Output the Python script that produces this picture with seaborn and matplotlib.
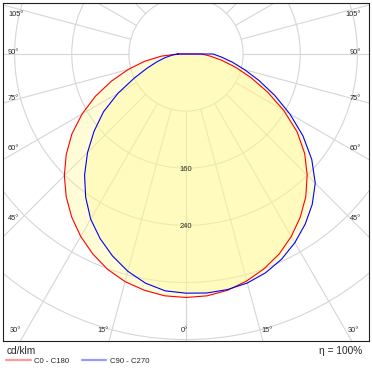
import numpy as np
import pandas as pd
import matplotlib
matplotlib.use("Agg")
import matplotlib.pyplot as plt
from matplotlib.lines import Line2D
import seaborn as sns

# luminous intensity (cd/klm), gamma 0..90 deg in 5 deg steps
gamma = [0, 5, 10, 15, 20, 25, 30, 35, 40, 45, 50, 55, 60, 65, 70, 75, 80, 85, 90]
c0 = [341, 340, 336, 329, 320, 309, 295, 279, 261, 240, 217, 190, 158, 126, 97, 72, 51, 34, 22]
c180 = [341, 340, 336, 330, 321, 309, 295, 279, 261, 241, 219, 195, 168, 140, 111, 84, 59, 35, 12]
c90 = [335, 336, 335, 332, 326, 317, 305, 291, 275, 256, 230, 200, 168, 137, 109, 85, 66, 50, 38]
c270 = [335, 333, 326, 315, 301, 285, 267, 245, 221, 195, 168, 141, 110, 80, 58, 42, 30, 20, 11]

planes = ["C0 - C180", "C90 - C270"]
colors = ["#ff0000", "#0000ff"]
ring_values = [80, 160, 240, 320, 400, 480, 560]
ring_labels = [160, 240]


def half_to_xy(right, left):
    # left half runs from 90 down to 0, right half from 0 up to 90, then close
    g = np.radians(np.array(gamma, dtype=float))
    r_left = np.array(left, dtype=float)
    r_right = np.array(right, dtype=float)
    x = np.concatenate([-(r_left * np.sin(g))[::-1], (r_right * np.sin(g))[1:]])
    y = np.concatenate([-(r_left * np.cos(g))[::-1], -(r_right * np.cos(g))[1:]])
    x = np.append(x, x[0])
    y = np.append(y, y[0])
    return x, y


rows = []
for plane, (right, left) in zip(planes, [(c0, c180), (c90, c270)]):
    x, y = half_to_xy(right, left)
    for i in range(len(x)):
        rows.append({"plane": plane, "order": i, "x": x[i], "y": y[i]})
df = pd.DataFrame(rows)

sns.set_style("white")
plt.rcParams["font.family"] = ["Liberation Sans", "DejaVu Sans"]

W, H = 372, 370
fig = plt.figure(figsize=(W / 100, H / 100), dpi=100)
# plot box in pixels: x 3..369, y 3..341 ; centre of diagram at (186, 54)
ax = fig.add_axes([3 / W, (H - 341) / H, 366 / W, 338 / H])
px = 0.714  # pixels per cd/klm
ax.set_xlim(-183 / px, 183 / px)
ax.set_ylim(-(341 - 54) / px, (54 - 3) / px)
ax.set_aspect("equal")

grid_c = "#d6d6d6"
# concentric rings
for rv in ring_values:
    ax.add_patch(plt.Circle((0, 0), rv, fill=False, color=grid_c, lw=0.8, zorder=1))
# radial lines every 15 deg, starting at the first ring
for a in range(0, 360, 15):
    t = np.radians(a)
    ax.plot([80 * np.sin(t), 900 * np.sin(t)], [-80 * np.cos(t), -900 * np.cos(t)],
            color=grid_c, lw=0.8, zorder=1)

# filled curves
for plane in planes:
    sub = df[df["plane"] == plane]
    ax.fill(sub["x"], sub["y"], color="#fff98c", alpha=0.34, lw=0, zorder=2)

sns.lineplot(data=df, x="x", y="y", hue="plane", palette=dict(zip(planes, colors)),
             units="plane", estimator=None, sort=False, lw=0.8, legend=False, ax=ax, zorder=3)

for rl in ring_labels:
    ax.text(0, -rl - 2, str(rl), ha="center", va="center", fontsize=5.4, zorder=4)

ax.set_xticks([])
ax.set_yticks([])
ax.set_xlabel("")
ax.set_ylabel("")
for s in ax.spines.values():
    s.set_color("#202020")
    s.set_linewidth(0.8)


def ftext(xp, yp, s, size=5.3, **kw):
    fig.text(xp / W, (H - yp) / H, s, fontsize=size, va="center", **kw)


# angle labels along the box
side_y = {105: 14, 90: 53, 75: 98, 60: 149, 45: 219}
for a, yp in side_y.items():
    ftext(8, yp, f"{a}°", ha="left")
    ftext(361, yp, f"{a}°", ha="right")
bottom_x = {30: 15.5, 15: 102.5, 0: 184.5}
for a, xp in bottom_x.items():
    ftext(xp, 331, f"{a}°", ha="center")
    if a:
        ftext(2 * 184.5 - xp, 331, f"{a}°", ha="center")

ftext(7, 351, "cd/klm", size=7.3, ha="left")
ftext(362, 351, "η = 100%", size=7.3, ha="right")

handles = [Line2D([], [], color=c, lw=1.6, alpha=0.4) for c in colors]
fig.legend(handles, planes, loc="center left", bbox_to_anchor=(6 / W, (H - 361) / H),
           ncol=2, frameon=False, fontsize=5.6, handlelength=3.2, handletextpad=0.4,
           columnspacing=1.6, borderpad=0, borderaxespad=0)

fig.savefig("out.png", dpi=100)
